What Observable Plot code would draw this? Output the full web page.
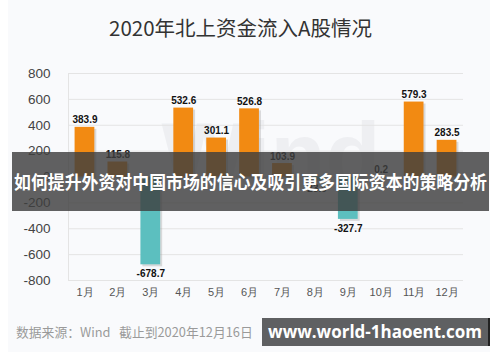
<!DOCTYPE html>
<html>
<head>
<meta charset="utf-8">
<script src="https://cdn.jsdelivr.net/npm/d3@7"></script>
<script src="https://cdn.jsdelivr.net/npm/@observablehq/plot@0.6"></script>
<style>
  html, body { margin: 0; padding: 0; background: #ffffff; }
  #wrap { position: relative; width: 500px; height: 362px; overflow: hidden; background: #ffffff; font-family: "Liberation Sans", Arial, "Noto Sans CJK SC", sans-serif; }
  #panel { position: absolute; left: 8px; top: 0; width: 482px; height: 352px; background: #f9fafc; }
  #title { position: absolute; left: 0; top: 12px; width: 481px; text-align: center; font-size: 20.5px; color: #333; font-family: "Noto Sans CJK SC", sans-serif; }
  #chart { position: absolute; left: 0; top: 55px; }
  #caption { position: absolute; left: 16px; top: 322px; font-size: 12.8px; color: #9a9a9a; font-family: "Noto Sans CJK SC", sans-serif; white-space: nowrap; }
  #banner { position: absolute; left: 12px; top: 152px; width: 477px; height: 59px; background: rgba(62,62,62,0.82); overflow: hidden; }
  #bannerText { position: absolute; left: 0; top: 0; color: #fff; font-weight: bold; font-size: 18px; line-height: 59px; font-family: "Noto Sans CJK SC", sans-serif; white-space: nowrap; transform-origin: 0 50%; }
  #mark { position: absolute; left: 262px; top: 318px; width: 228px; height: 28px; background: #5f6062; border-right: 2px solid #222; box-sizing: border-box; color: #fff; font-weight: bold; font-size: 17px; line-height: 28px; text-align: center; font-family: "Open Sans", "DejaVu Sans", sans-serif; }
</style>
</head>
<body>
<div id="wrap">
  <div id="panel"></div>
  <div id="title">2020年北上资金流入A股情况</div>
  <div id="chart"></div>
  <div id="caption">数据来源：Wind&nbsp;&nbsp;&nbsp;截止到2020年12月16日</div>
  <div id="banner"><span id="bannerText">如何提升外资对中国市场的信心及吸引更多国际资本的策略分析</span></div>
  <div id="mark">www.world-1haoent.com</div>
</div>
<script>
const months = ["1月","2月","3月","4月","5月","6月","7月","8月","9月","10月","11月","12月"];
const values = [383.9, 115.8, -678.7, 532.6, 301.1, 526.8, 103.9, -23.9, -327.7, 0.2, 579.3, 283.5];
const yTicks = [-800, -600, -400, -200, 0, 200, 400, 600, 800];

const data = months.map((m, i) => ({month: m, value: values[i]}));

const chart = Plot.plot({
  width: 500,
  height: 255,
  marginLeft: 68,
  marginRight: 37,
  marginTop: 18,
  marginBottom: 30,
  style: { background: "transparent", fontFamily: "Liberation Sans, Arial, sans-serif" },
  x: { domain: months, paddingInner: 0.4, paddingOuter: 0.2, round: false, label: null },
  y: { domain: [-800, 800], label: null },
  marks: [
    Plot.text(["Wind"], {frameAnchor: "middle", text: d => d, fontSize: 90, fontWeight: "bold", fill: "#eeeff2", dx: 5, dy: -20}),
    Plot.gridY(yTicks, {stroke: "#e4e4e4", strokeOpacity: 1}),
    Plot.ruleX([months[0]], {stroke: "#e4e4e4", dx: -16.45, y1: -800, y2: 800}),
    Plot.axisY(yTicks, {tickSize: 0, tickPadding: 18, fontSize: 13.5, fill: "#444", tickFormat: d => String(d)}),
    Plot.axisX({tickSize: 0, tickPadding: 8, fontSize: 11, fill: "#555"}),
    Plot.barY(data, {x: "month", y: "value", fill: "#9a9a9a", fillOpacity: 0.35, dx: 2, dy: 2}),
    Plot.barY(data, {x: "month", y: "value", fill: d => d.value >= 0 ? "#f28a12" : "#5cbfbf"}),
    Plot.text(data.filter(d => d.value >= 0), {x: "month", y: "value", text: d => d.value.toFixed(1), fontSize: 10, fontWeight: "bold", fill: "#111",
      lineAnchor: "bottom", dy: -4}),
    Plot.text(data.filter(d => d.value < 0), {x: "month", y: "value", text: d => d.value.toFixed(1), fontSize: 10, fontWeight: "bold", fill: "#111",
      lineAnchor: "top", dy: 5})
  ]
});
document.getElementById("chart").appendChild(chart);

// fit banner text to the band width (text spans nearly the full band in the reference)
const bt = document.getElementById("bannerText");
const target = 473;
const w = bt.getBoundingClientRect().width;
const s = target / w;
bt.style.transform = `translateX(2px) scaleX(${s})`;
</script>
</body>
</html>
